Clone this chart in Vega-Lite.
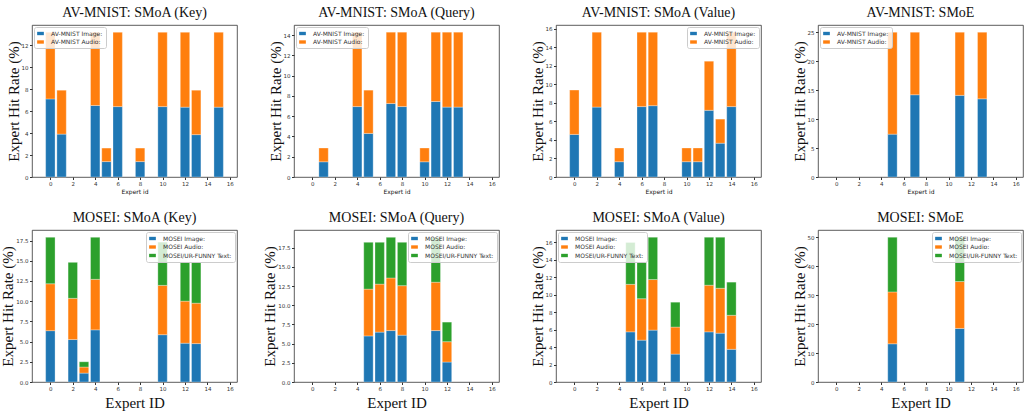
{
  "$schema": "https://vega.github.io/schema/vega-lite/v6.json",
  "padding": {"left": 0, "top": 5, "right": 0, "bottom": 0},
  "background": "white",
  "config": {
    "view": {"stroke": "#333", "strokeWidth": 0.8},
    "axis": {"domain": false, "grid": false, "tickSize": 2.5, "tickColor": "#333", "labelFont": "DejaVu Sans", "labelFontSize": 5.5, "labelColor": "#333", "labelPadding": 1.5, "titleFont": "Liberation Serif", "titleFontSize": 15, "titleFontWeight": "normal", "titleColor": "#111"},
    "axisY": {"titlePadding": 0},
    "title": {"font": "Liberation Serif", "fontSize": 14, "fontWeight": "normal", "color": "#111", "offset": 5},
    "legend": {"labelFont": "DejaVu Sans", "labelFontSize": 6, "labelColor": "#333", "fillColor": "rgba(255,255,255,0.8)", "strokeColor": "#ccc", "cornerRadius": 2, "padding": 3, "offset": 2, "rowPadding": 1.5, "symbolType": "M-1,-0.5L1,-0.5L1,0.5L-1,0.5Z", "symbolSize": 45, "symbolStrokeWidth": 0, "labelOffset": 7}
  },
  "data": {"values": [
    {"p":"A","e":0,"m":"AV-MNIST Image:","v":7.1},{"p":"A","e":0,"m":"AV-MNIST Audio:","v":6.06},
    {"p":"A","e":1,"m":"AV-MNIST Image:","v":3.9},{"p":"A","e":1,"m":"AV-MNIST Audio:","v":3.99},
    {"p":"A","e":4,"m":"AV-MNIST Image:","v":6.5},{"p":"A","e":4,"m":"AV-MNIST Audio:","v":6.66},
    {"p":"A","e":5,"m":"AV-MNIST Image:","v":1.4},{"p":"A","e":5,"m":"AV-MNIST Audio:","v":1.23},
    {"p":"A","e":6,"m":"AV-MNIST Image:","v":6.4},{"p":"A","e":6,"m":"AV-MNIST Audio:","v":6.76},
    {"p":"A","e":8,"m":"AV-MNIST Image:","v":1.4},{"p":"A","e":8,"m":"AV-MNIST Audio:","v":1.23},
    {"p":"A","e":10,"m":"AV-MNIST Image:","v":6.4},{"p":"A","e":10,"m":"AV-MNIST Audio:","v":6.76},
    {"p":"A","e":12,"m":"AV-MNIST Image:","v":6.35},{"p":"A","e":12,"m":"AV-MNIST Audio:","v":6.81},
    {"p":"A","e":13,"m":"AV-MNIST Image:","v":3.85},{"p":"A","e":13,"m":"AV-MNIST Audio:","v":4.04},
    {"p":"A","e":15,"m":"AV-MNIST Image:","v":6.35},{"p":"A","e":15,"m":"AV-MNIST Audio:","v":6.81},

    {"p":"B","e":1,"m":"AV-MNIST Image:","v":1.5},{"p":"B","e":1,"m":"AV-MNIST Audio:","v":1.36},
    {"p":"B","e":4,"m":"AV-MNIST Image:","v":6.95},{"p":"B","e":4,"m":"AV-MNIST Audio:","v":7.34},
    {"p":"B","e":5,"m":"AV-MNIST Image:","v":4.3},{"p":"B","e":5,"m":"AV-MNIST Audio:","v":4.27},
    {"p":"B","e":7,"m":"AV-MNIST Image:","v":7.25},{"p":"B","e":7,"m":"AV-MNIST Audio:","v":7.04},
    {"p":"B","e":8,"m":"AV-MNIST Image:","v":6.95},{"p":"B","e":8,"m":"AV-MNIST Audio:","v":7.34},
    {"p":"B","e":10,"m":"AV-MNIST Image:","v":1.5},{"p":"B","e":10,"m":"AV-MNIST Audio:","v":1.36},
    {"p":"B","e":11,"m":"AV-MNIST Image:","v":7.45},{"p":"B","e":11,"m":"AV-MNIST Audio:","v":6.84},
    {"p":"B","e":12,"m":"AV-MNIST Image:","v":6.9},{"p":"B","e":12,"m":"AV-MNIST Audio:","v":7.39},
    {"p":"B","e":13,"m":"AV-MNIST Image:","v":6.9},{"p":"B","e":13,"m":"AV-MNIST Audio:","v":7.39},

    {"p":"C","e":0,"m":"AV-MNIST Image:","v":4.6},{"p":"C","e":0,"m":"AV-MNIST Audio:","v":4.78},
    {"p":"C","e":2,"m":"AV-MNIST Image:","v":7.55},{"p":"C","e":2,"m":"AV-MNIST Audio:","v":8.08},
    {"p":"C","e":4,"m":"AV-MNIST Image:","v":1.65},{"p":"C","e":4,"m":"AV-MNIST Audio:","v":1.48},
    {"p":"C","e":6,"m":"AV-MNIST Image:","v":7.6},{"p":"C","e":6,"m":"AV-MNIST Audio:","v":8.03},
    {"p":"C","e":7,"m":"AV-MNIST Image:","v":7.7},{"p":"C","e":7,"m":"AV-MNIST Audio:","v":7.93},
    {"p":"C","e":10,"m":"AV-MNIST Image:","v":1.65},{"p":"C","e":10,"m":"AV-MNIST Audio:","v":1.48},
    {"p":"C","e":11,"m":"AV-MNIST Image:","v":1.65},{"p":"C","e":11,"m":"AV-MNIST Audio:","v":1.48},
    {"p":"C","e":12,"m":"AV-MNIST Image:","v":7.2},{"p":"C","e":12,"m":"AV-MNIST Audio:","v":5.3},
    {"p":"C","e":13,"m":"AV-MNIST Image:","v":3.65},{"p":"C","e":13,"m":"AV-MNIST Audio:","v":2.6},
    {"p":"C","e":14,"m":"AV-MNIST Image:","v":7.6},{"p":"C","e":14,"m":"AV-MNIST Audio:","v":8.03},

    {"p":"D","e":5,"m":"AV-MNIST Image:","v":7.4},{"p":"D","e":5,"m":"AV-MNIST Audio:","v":17.6},
    {"p":"D","e":7,"m":"AV-MNIST Image:","v":14.2},{"p":"D","e":7,"m":"AV-MNIST Audio:","v":10.8},
    {"p":"D","e":11,"m":"AV-MNIST Image:","v":14.1},{"p":"D","e":11,"m":"AV-MNIST Audio:","v":10.9},
    {"p":"D","e":13,"m":"AV-MNIST Image:","v":13.5},{"p":"D","e":13,"m":"AV-MNIST Audio:","v":11.5},

    {"p":"E","e":0,"m":"MOSEI Image:","v":6.35},{"p":"E","e":0,"m":"MOSEI Audio:","v":5.8},{"p":"E","e":0,"m":"MOSEI/UR-FUNNY Text:","v":5.75},
    {"p":"E","e":2,"m":"MOSEI Image:","v":5.25},{"p":"E","e":2,"m":"MOSEI Audio:","v":5.1},{"p":"E","e":2,"m":"MOSEI/UR-FUNNY Text:","v":4.45},
    {"p":"E","e":3,"m":"MOSEI Image:","v":1.1},{"p":"E","e":3,"m":"MOSEI Audio:","v":0.75},{"p":"E","e":3,"m":"MOSEI/UR-FUNNY Text:","v":0.65},
    {"p":"E","e":4,"m":"MOSEI Image:","v":6.45},{"p":"E","e":4,"m":"MOSEI Audio:","v":6.25},{"p":"E","e":4,"m":"MOSEI/UR-FUNNY Text:","v":5.2},
    {"p":"E","e":10,"m":"MOSEI Image:","v":5.85},{"p":"E","e":10,"m":"MOSEI Audio:","v":6.1},{"p":"E","e":10,"m":"MOSEI/UR-FUNNY Text:","v":5.35},
    {"p":"E","e":12,"m":"MOSEI Image:","v":4.8},{"p":"E","e":12,"m":"MOSEI Audio:","v":5.2},{"p":"E","e":12,"m":"MOSEI/UR-FUNNY Text:","v":4.8},
    {"p":"E","e":13,"m":"MOSEI Image:","v":4.75},{"p":"E","e":13,"m":"MOSEI Audio:","v":5.0},{"p":"E","e":13,"m":"MOSEI/UR-FUNNY Text:","v":5.05},

    {"p":"F","e":5,"m":"MOSEI Image:","v":6.0},{"p":"F","e":5,"m":"MOSEI Audio:","v":6.1},{"p":"F","e":5,"m":"MOSEI/UR-FUNNY Text:","v":6.1},
    {"p":"F","e":6,"m":"MOSEI Image:","v":6.5},{"p":"F","e":6,"m":"MOSEI Audio:","v":6.25},{"p":"F","e":6,"m":"MOSEI/UR-FUNNY Text:","v":5.45},
    {"p":"F","e":7,"m":"MOSEI Image:","v":6.7},{"p":"F","e":7,"m":"MOSEI Audio:","v":6.85},{"p":"F","e":7,"m":"MOSEI/UR-FUNNY Text:","v":5.3},
    {"p":"F","e":8,"m":"MOSEI Image:","v":6.1},{"p":"F","e":8,"m":"MOSEI Audio:","v":6.45},{"p":"F","e":8,"m":"MOSEI/UR-FUNNY Text:","v":5.65},
    {"p":"F","e":11,"m":"MOSEI Image:","v":6.7},{"p":"F","e":11,"m":"MOSEI Audio:","v":6.3},{"p":"F","e":11,"m":"MOSEI/UR-FUNNY Text:","v":5.8},
    {"p":"F","e":12,"m":"MOSEI Image:","v":2.6},{"p":"F","e":12,"m":"MOSEI Audio:","v":2.65},{"p":"F","e":12,"m":"MOSEI/UR-FUNNY Text:","v":2.55},

    {"p":"G","e":5,"m":"MOSEI Image:","v":5.75},{"p":"G","e":5,"m":"MOSEI Audio:","v":5.45},{"p":"G","e":5,"m":"MOSEI/UR-FUNNY Text:","v":4.8},
    {"p":"G","e":6,"m":"MOSEI Image:","v":4.8},{"p":"G","e":6,"m":"MOSEI Audio:","v":4.75},{"p":"G","e":6,"m":"MOSEI/UR-FUNNY Text:","v":4.15},
    {"p":"G","e":7,"m":"MOSEI Image:","v":5.95},{"p":"G","e":7,"m":"MOSEI Audio:","v":5.8},{"p":"G","e":7,"m":"MOSEI/UR-FUNNY Text:","v":4.85},
    {"p":"G","e":9,"m":"MOSEI Image:","v":3.2},{"p":"G","e":9,"m":"MOSEI Audio:","v":3.1},{"p":"G","e":9,"m":"MOSEI/UR-FUNNY Text:","v":2.85},
    {"p":"G","e":12,"m":"MOSEI Image:","v":5.75},{"p":"G","e":12,"m":"MOSEI Audio:","v":5.35},{"p":"G","e":12,"m":"MOSEI/UR-FUNNY Text:","v":5.5},
    {"p":"G","e":13,"m":"MOSEI Image:","v":5.6},{"p":"G","e":13,"m":"MOSEI Audio:","v":5.15},{"p":"G","e":13,"m":"MOSEI/UR-FUNNY Text:","v":5.85},
    {"p":"G","e":14,"m":"MOSEI Image:","v":3.75},{"p":"G","e":14,"m":"MOSEI Audio:","v":3.9},{"p":"G","e":14,"m":"MOSEI/UR-FUNNY Text:","v":3.8},

    {"p":"H","e":5,"m":"MOSEI Image:","v":13.2},{"p":"H","e":5,"m":"MOSEI Audio:","v":17.9},{"p":"H","e":5,"m":"MOSEI/UR-FUNNY Text:","v":18.9},
    {"p":"H","e":11,"m":"MOSEI Image:","v":18.5},{"p":"H","e":11,"m":"MOSEI Audio:","v":16.2},{"p":"H","e":11,"m":"MOSEI/UR-FUNNY Text:","v":15.3}
  ]},
  "transform": [{"calculate": "indexof(['AV-MNIST Image:','AV-MNIST Audio:','MOSEI Image:','MOSEI Audio:','MOSEI/UR-FUNNY Text:'], datum.m)", "as": "o"}],
  "columns": 4,
  "spacing": {"row": 53, "column": 57},
  "bounds": "flush",
  "resolve": {"scale": {"x": "independent", "y": "independent", "color": "independent"}, "legend": {"color": "independent"}, "axis": {"x": "independent", "y": "independent"}},
  "concat": [
    {"title": "AV-MNIST: SMoA (Key)", "width": 205, "height": 152,
     "transform": [{"filter": "datum.p == 'A'"}],
     "mark": {"type": "bar", "width": 9.4, "stroke": "white", "strokeWidth": 0.6, "strokeOpacity": 0.5},
     "encoding": {
       "x": {"field": "e", "type": "quantitative", "scale": {"domain": [-1.19, 16.19], "nice": false, "zero": false}, "axis": {"values": [0,2,4,6,8,10,12,14,16], "title": "Expert id", "titleFont": "DejaVu Sans", "titleFontSize": 6, "titlePadding": 2}},
       "y": {"field": "v", "type": "quantitative", "stack": "zero", "scale": {"domain": [0, 13.82], "nice": false}, "axis": {"values": [0,2,4,6,8,10,12], "title": "Expert Hit Rate (%)"}},
       "order": {"field": "o", "type": "quantitative", "sort": "ascending"},
       "color": {"field": "m", "type": "nominal", "sort": ["AV-MNIST Image:", "AV-MNIST Audio:"], "scale": {"domain": ["AV-MNIST Image:", "AV-MNIST Audio:"], "range": ["#1f77b4", "#ff7f0e"]}, "legend": {"orient": "top-left", "title": null}}
     }},
    {"title": "AV-MNIST: SMoA (Query)", "width": 205, "height": 152,
     "transform": [{"filter": "datum.p == 'B'"}],
     "mark": {"type": "bar", "width": 9.4, "stroke": "white", "strokeWidth": 0.6, "strokeOpacity": 0.5},
     "encoding": {
       "x": {"field": "e", "type": "quantitative", "scale": {"domain": [-1.19, 16.19], "nice": false, "zero": false}, "axis": {"values": [0,2,4,6,8,10,12,14,16], "title": "Expert id", "titleFont": "DejaVu Sans", "titleFontSize": 6, "titlePadding": 2}},
       "y": {"field": "v", "type": "quantitative", "stack": "zero", "scale": {"domain": [0, 15.0], "nice": false}, "axis": {"values": [0,2,4,6,8,10,12,14], "title": "Expert Hit Rate (%)"}},
       "order": {"field": "o", "type": "quantitative", "sort": "ascending"},
       "color": {"field": "m", "type": "nominal", "sort": ["AV-MNIST Image:", "AV-MNIST Audio:"], "scale": {"domain": ["AV-MNIST Image:", "AV-MNIST Audio:"], "range": ["#1f77b4", "#ff7f0e"]}, "legend": {"orient": "top-left", "title": null}}
     }},
    {"title": "AV-MNIST: SMoA (Value)", "width": 205, "height": 152,
     "transform": [{"filter": "datum.p == 'C'"}],
     "mark": {"type": "bar", "width": 9.4, "stroke": "white", "strokeWidth": 0.6, "strokeOpacity": 0.5},
     "encoding": {
       "x": {"field": "e", "type": "quantitative", "scale": {"domain": [-1.19, 16.19], "nice": false, "zero": false}, "axis": {"values": [0,2,4,6,8,10,12,14,16], "title": "Expert id", "titleFont": "DejaVu Sans", "titleFontSize": 6, "titlePadding": 2}},
       "y": {"field": "v", "type": "quantitative", "stack": "zero", "scale": {"domain": [0, 16.41], "nice": false}, "axis": {"values": [0,2,4,6,8,10,12,14,16], "title": "Expert Hit Rate (%)"}},
       "order": {"field": "o", "type": "quantitative", "sort": "ascending"},
       "color": {"field": "m", "type": "nominal", "sort": ["AV-MNIST Image:", "AV-MNIST Audio:"], "scale": {"domain": ["AV-MNIST Image:", "AV-MNIST Audio:"], "range": ["#1f77b4", "#ff7f0e"]}, "legend": {"orient": "top-right", "title": null}}
     }},
    {"title": "AV-MNIST: SMoE", "width": 205, "height": 152,
     "transform": [{"filter": "datum.p == 'D'"}],
     "mark": {"type": "bar", "width": 9.4, "stroke": "white", "strokeWidth": 0.6, "strokeOpacity": 0.5},
     "encoding": {
       "x": {"field": "e", "type": "quantitative", "scale": {"domain": [-1.19, 16.19], "nice": false, "zero": false}, "axis": {"values": [0,2,4,6,8,10,12,14,16], "title": "Expert id", "titleFont": "DejaVu Sans", "titleFontSize": 6, "titlePadding": 2}},
       "y": {"field": "v", "type": "quantitative", "stack": "zero", "scale": {"domain": [0, 26.25], "nice": false}, "axis": {"values": [0,5,10,15,20,25], "title": "Expert Hit Rate (%)"}},
       "order": {"field": "o", "type": "quantitative", "sort": "ascending"},
       "color": {"field": "m", "type": "nominal", "sort": ["AV-MNIST Image:", "AV-MNIST Audio:"], "scale": {"domain": ["AV-MNIST Image:", "AV-MNIST Audio:"], "range": ["#1f77b4", "#ff7f0e"]}, "legend": {"orient": "top-left", "title": null}}
     }},
    {"title": "MOSEI: SMoA (Key)", "width": 205, "height": 152,
     "transform": [{"filter": "datum.p == 'E'"}],
     "mark": {"type": "bar", "width": 9.4, "stroke": "white", "strokeWidth": 0.6, "strokeOpacity": 0.5},
     "encoding": {
       "x": {"field": "e", "type": "quantitative", "scale": {"domain": [-1.19, 16.19], "nice": false, "zero": false}, "axis": {"values": [0,2,4,6,8,10,12,14,16], "title": "Expert ID"}},
       "y": {"field": "v", "type": "quantitative", "stack": "zero", "scale": {"domain": [0, 18.8], "nice": false}, "axis": {"values": [0,2.5,5,7.5,10,12.5,15,17.5], "format": ".1f", "title": "Expert Hit Rate (%)"}},
       "order": {"field": "o", "type": "quantitative", "sort": "ascending"},
       "color": {"field": "m", "type": "nominal", "sort": ["MOSEI Image:", "MOSEI Audio:", "MOSEI/UR-FUNNY Text:"], "scale": {"domain": ["MOSEI Image:", "MOSEI Audio:", "MOSEI/UR-FUNNY Text:"], "range": ["#1f77b4", "#ff7f0e", "#2ca02c"]}, "legend": {"orient": "top-right", "title": null}}
     }},
    {"title": "MOSEI: SMoA (Query)", "width": 205, "height": 152,
     "transform": [{"filter": "datum.p == 'F'"}],
     "mark": {"type": "bar", "width": 9.4, "stroke": "white", "strokeWidth": 0.6, "strokeOpacity": 0.5},
     "encoding": {
       "x": {"field": "e", "type": "quantitative", "scale": {"domain": [-1.19, 16.19], "nice": false, "zero": false}, "axis": {"values": [0,2,4,6,8,10,12,14,16], "title": "Expert ID"}},
       "y": {"field": "v", "type": "quantitative", "stack": "zero", "scale": {"domain": [0, 19.8], "nice": false}, "axis": {"values": [0,2.5,5,7.5,10,12.5,15,17.5], "format": ".1f", "title": "Expert Hit Rate (%)"}},
       "order": {"field": "o", "type": "quantitative", "sort": "ascending"},
       "color": {"field": "m", "type": "nominal", "sort": ["MOSEI Image:", "MOSEI Audio:", "MOSEI/UR-FUNNY Text:"], "scale": {"domain": ["MOSEI Image:", "MOSEI Audio:", "MOSEI/UR-FUNNY Text:"], "range": ["#1f77b4", "#ff7f0e", "#2ca02c"]}, "legend": {"orient": "top-right", "title": null}}
     }},
    {"title": "MOSEI: SMoA (Value)", "width": 205, "height": 152,
     "transform": [{"filter": "datum.p == 'G'"}],
     "mark": {"type": "bar", "width": 9.4, "stroke": "white", "strokeWidth": 0.6, "strokeOpacity": 0.5},
     "encoding": {
       "x": {"field": "e", "type": "quantitative", "scale": {"domain": [-1.19, 16.19], "nice": false, "zero": false}, "axis": {"values": [0,2,4,6,8,10,12,14,16], "title": "Expert ID"}},
       "y": {"field": "v", "type": "quantitative", "stack": "zero", "scale": {"domain": [0, 17.43], "nice": false}, "axis": {"values": [0,2,4,6,8,10,12,14,16], "title": "Expert Hit Rate (%)"}},
       "order": {"field": "o", "type": "quantitative", "sort": "ascending"},
       "color": {"field": "m", "type": "nominal", "sort": ["MOSEI Image:", "MOSEI Audio:", "MOSEI/UR-FUNNY Text:"], "scale": {"domain": ["MOSEI Image:", "MOSEI Audio:", "MOSEI/UR-FUNNY Text:"], "range": ["#1f77b4", "#ff7f0e", "#2ca02c"]}, "legend": {"orient": "top-left", "title": null}}
     }},
    {"title": "MOSEI: SMoE", "width": 205, "height": 152,
     "transform": [{"filter": "datum.p == 'H'"}],
     "mark": {"type": "bar", "width": 9.4, "stroke": "white", "strokeWidth": 0.6, "strokeOpacity": 0.5},
     "encoding": {
       "x": {"field": "e", "type": "quantitative", "scale": {"domain": [-1.19, 16.19], "nice": false, "zero": false}, "axis": {"values": [0,2,4,6,8,10,12,14,16], "title": "Expert ID"}},
       "y": {"field": "v", "type": "quantitative", "stack": "zero", "scale": {"domain": [0, 52.5], "nice": false}, "axis": {"values": [0,10,20,30,40,50], "title": "Expert Hit Rate (%)"}},
       "order": {"field": "o", "type": "quantitative", "sort": "ascending"},
       "color": {"field": "m", "type": "nominal", "sort": ["MOSEI Image:", "MOSEI Audio:", "MOSEI/UR-FUNNY Text:"], "scale": {"domain": ["MOSEI Image:", "MOSEI Audio:", "MOSEI/UR-FUNNY Text:"], "range": ["#1f77b4", "#ff7f0e", "#2ca02c"]}, "legend": {"orient": "top-right", "title": null}}
     }}
  ]
}
